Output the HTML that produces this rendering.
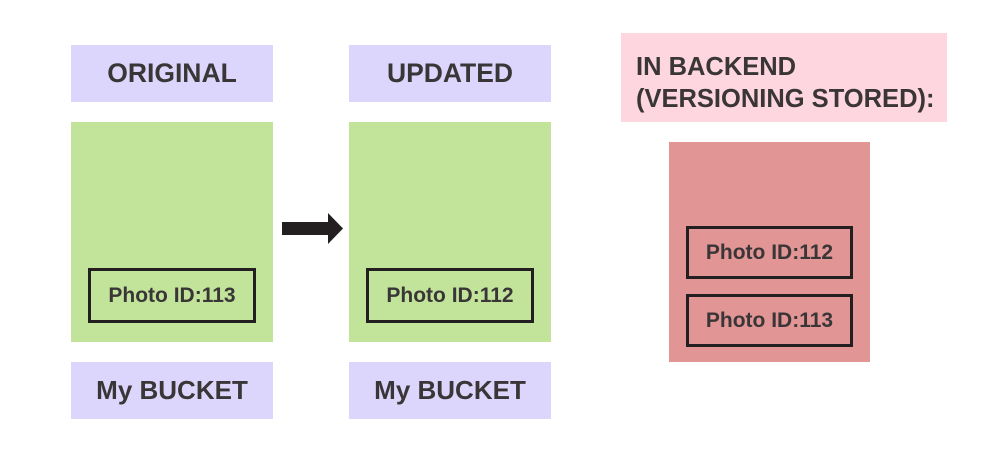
<!DOCTYPE html>
<html><head><style>
body{margin:0;width:1000px;height:456px;background:#fff;position:relative;overflow:hidden;font-family:"Liberation Sans",sans-serif;font-weight:bold;color:#3a3637}
.b{position:absolute;box-sizing:border-box;display:flex;align-items:center;justify-content:center}
.lav{background:#dcd6fc;font-size:26px}
.g{background:#c1e49a}
.r{background:#e29595}
.p{border:3.5px solid #231f20;font-size:21px}
</style></head><body>
<div class="b lav" style="left:71px;top:45px;width:202px;height:57px;font-size:26.5px">ORIGINAL</div>
<div class="b lav" style="left:349px;top:45px;width:202px;height:57px;font-size:26.5px">UPDATED</div>
<div class="b g" style="left:71px;top:122px;width:202px;height:220px"></div>
<div class="b g" style="left:349px;top:122px;width:202px;height:220px"></div>
<div class="b p" style="left:88px;top:268px;width:168px;height:55px">Photo ID:113</div>
<div class="b p" style="left:366px;top:268px;width:168px;height:55px">Photo ID:112</div>
<div class="b lav" style="left:71px;top:362px;width:202px;height:57px">My BUCKET</div>
<div class="b lav" style="left:349px;top:362px;width:202px;height:57px">My BUCKET</div>
<svg style="position:absolute;left:0;top:0" width="1000" height="456"><path d="M282 222H328V213L343 228.5L328 244V235H282Z" fill="#231f20"/></svg>
<div style="position:absolute;left:621px;top:33px;width:326px;height:89px;background:#fdd6df;box-sizing:border-box;padding:18px 0 0 15px;font-size:25.5px;line-height:32px;white-space:nowrap">IN BACKEND<br>(VERSIONING STORED):</div>
<div class="b r" style="left:669px;top:142px;width:201px;height:220px"></div>
<div class="b p" style="left:686px;top:226px;width:167px;height:53px">Photo ID:112</div>
<div class="b p" style="left:686px;top:294px;width:167px;height:53px">Photo ID:113</div>
</body></html>
